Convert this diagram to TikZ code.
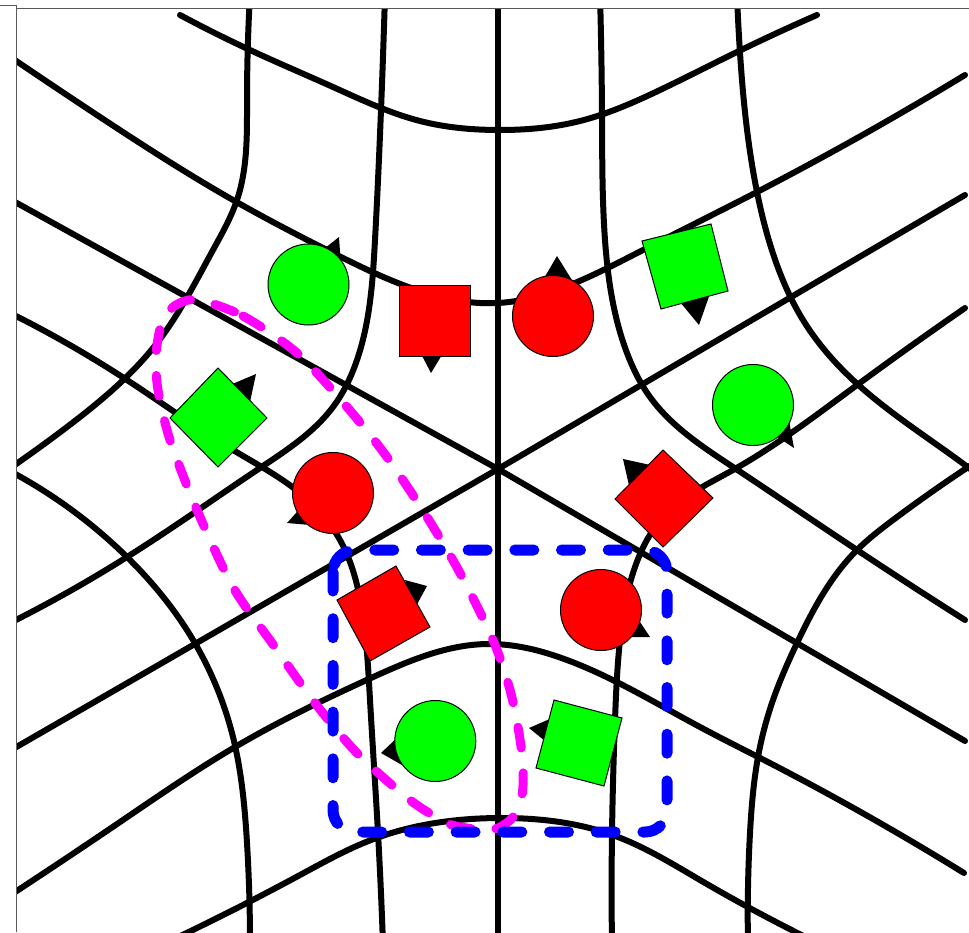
\documentclass[tikz,border=0pt]{standalone}
\usetikzlibrary{hobby}
\definecolor{magc}{RGB}{255,0,255}
\definecolor{bluec}{RGB}{0,0,255}
\definecolor{greenc}{RGB}{0,255,0}
\definecolor{redc}{RGB}{255,0,0}
\begin{document}
\begin{tikzpicture}[x=1pt,y=-1pt,
  curve/.style={line width=6, line cap=round, line join=round, use Hobby shortcut},
  shapeline/.style={draw=black, line width=1},
  tri/.style={fill=black},
  frameline/.style={draw=black!65, line width=1},
  magentaline/.style={draw=magc, line width=9, line cap=round, dash pattern=on 21 off 25},
  blueline/.style={draw=bluec, line width=11, line cap=round, dash pattern=on 19 off 27.7}
]
\useasboundingbox (0,0) rectangle (969,932);
\fill[white] (0,0) rectangle (969,932);
\begin{scope}
\clip (16,8) rectangle (969,932);
% straight lines
\draw[line width=6, line cap=round] (498,0) -- (498,945);
\draw[line width=6, line cap=round, line join=round] (6,197) -- (498,469) -- (965,741);
\draw[line width=6, line cap=round, line join=round] (6,753) -- (498,469) -- (965,195);
% ray 90
\draw[curve] (6,54) .. (100,117) .. (233,200) .. (333,253) .. (420,291) .. (498,303) .. (570,285) .. (643,250) .. (757,192) .. (965,75);
\draw[curve] (180,15) .. (250,50) .. (333,87) .. (420,121) .. (498,130) .. (580,121) .. (660,90) .. (737,52) .. (817,15);
% ray 270
\draw[curve] (6,898) .. (120,822) .. (235,747) .. (371,678) .. (487,644) .. (567,660) .. (700,727) .. (764,760) .. (964,873);
\draw[curve] (155,948) .. (300,875) .. (371,840) .. (498,818) .. (618,837) .. (700,880) .. (828,948);
% ray 150
\draw[curve] (385,-5) .. (381,110) .. (375,240) .. (357,360) .. (333,407) .. (260,468) .. (127,557) .. (6,625);
\draw[curve] (250,-5) .. (247,100) .. (237,200) .. (213,250) .. (157,343) .. (67,427) .. (6,471);
% ray 30
\draw[curve] (600,-5) .. (602,115) .. (605,240) .. (627,353) .. (650,397) .. (733,467) .. (857,550) .. (965,620);
\draw[curve] (737,-5) .. (740,53) .. (757,192) .. (780,273) .. (803,320) .. (853,380) .. (969,468) .. (982,478);
% ray 330
\draw[curve] (965,308) .. (853,388) .. (733,470) .. (665,515) .. (635,567) .. (620,640) .. (615,720) .. (612,833) .. (612,945);
\draw[curve] (982,458) .. (893,520) .. (857,550) .. (797,643) .. (773,700) .. (758,757) .. (750,833) .. (748,945);
% ray 210
\draw[curve] (6,311) .. (127,380) .. (233,450) .. (300,493) .. (340,540) .. (362,610) .. (370,700) .. (378,833) .. (383,945);
\draw[curve] (6,469) .. (127,557) .. (185,627) .. (233,737) .. (247,843) .. (250,945);
\end{scope}
% frame
\draw[frameline] (0,5.5) -- (16,5.5);
\draw[frameline] (16,5) -- (16,932);
\draw[frameline] (16,8) -- (969,8);
% triangles
\fill[tri] (339,237) -- (341,266) -- (315,256) -- cycle;
\fill[tri] (431,373) -- (419,350) -- (445,350) -- cycle;
\fill[tri] (557,256) -- (540,285) -- (575,285) -- cycle;
\fill[tri] (699,325) -- (675,296) -- (712,288) -- cycle;
\fill[tri] (794,448) -- (770,432) -- (788,415) -- cycle;
\fill[tri] (623,459) -- (630,490) -- (655,466) -- cycle;
\fill[tri] (650,637) -- (625,637) -- (632,610) -- cycle;
\fill[tri] (529,728) -- (552,718) -- (550,745) -- cycle;
\fill[tri] (381,753) -- (400,735) -- (402,765) -- cycle;
\fill[tri] (427,586) -- (405,580) -- (415,608) -- cycle;
\fill[tri] (287,523) -- (305,503) -- (310,525) -- cycle;
\fill[tri] (256,374) -- (230,385) -- (250,402) -- cycle;
% shapes
\filldraw[shapeline, fill=greenc] (308.5,284.5) circle[radius=40.5];
\filldraw[shapeline, fill=redc] (399,285) rectangle (470,356);
\filldraw[shapeline, fill=redc] (553,316) circle[radius=40.5];
\filldraw[shapeline, fill=greenc] (642,241) -- (711,224) -- (728,291) -- (661,309) -- cycle;
\filldraw[shapeline, fill=greenc] (753,405) circle[radius=40.5];
\filldraw[shapeline, fill=redc] (663,450) -- (713,498) -- (663,547) -- (615,499) -- cycle;
\filldraw[shapeline, fill=redc] (601,610) circle[radius=40.5];
\filldraw[shapeline, fill=greenc] (554,700) -- (622,718) -- (604,786) -- (536,768) -- cycle;
\filldraw[shapeline, fill=greenc] (435.3,741) circle[radius=40.5];
\filldraw[shapeline, fill=redc] (337,600) -- (396,566) -- (430,627) -- (370,661) -- cycle;
\filldraw[shapeline, fill=redc] (333,493) circle[radius=40.5];
\filldraw[shapeline, fill=greenc] (218,368) -- (267,418) -- (218,467) -- (170,418) -- cycle;
% dashed outlines
\draw[magentaline] plot[smooth cycle, tension=0.5] coordinates {(198,300) (243,316) (297,353) (347,407) (387,457) (427,517) (460,573) (493,640) (510,690) (519,733) (523,767) (522,795) (513,817) (500,827) (488,830) (467,828) (447,823) (410,800) (357,753) (315,703) (272,643) (233,587) (197,510) (170,440) (158,390) (156,355) (162,322) (176,305)};
\draw[blueline, rounded corners=22] (333,550) rectangle (667,832);
\end{tikzpicture}
\end{document}
